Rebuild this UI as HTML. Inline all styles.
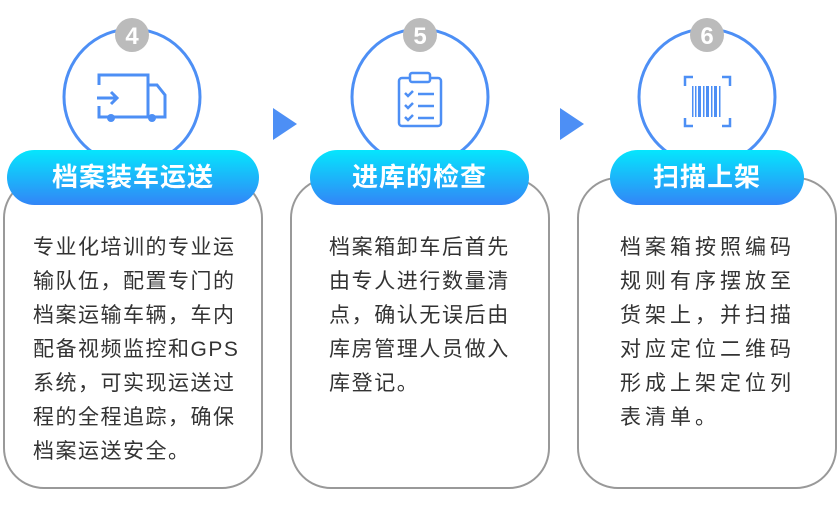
<!DOCTYPE html>
<html><head><meta charset="utf-8"><style>
body{margin:0;width:837px;height:507px;background:#fff;overflow:hidden;position:relative;font-family:"Liberation Sans","Noto Sans CJK SC",sans-serif}
svg{position:absolute;left:0;top:0}
.t{position:absolute;font-size:21px;line-height:34px;color:#333;white-space:nowrap}
.p{position:absolute;color:#fff;font-weight:bold;font-size:26px;text-align:center;line-height:55px;top:150px;letter-spacing:1px}
</style></head><body>
<svg width="837" height="507">
<defs><linearGradient id="g" x1="0" y1="0" x2="0" y2="1"><stop offset="0" stop-color="#05e6fd"/><stop offset="1" stop-color="#3285f7"/></linearGradient></defs>
<g fill="#fff" stroke="#999" stroke-width="2">
<rect x="4" y="178" width="258" height="310" rx="40"/>
<rect x="291" y="178" width="258" height="310" rx="40"/>
<rect x="578" y="178" width="258" height="310" rx="40"/>
</g>
<g fill="#fff" stroke="#4d8ff5" stroke-width="3">
<circle cx="132" cy="97" r="68"/><circle cx="420" cy="97" r="68"/><circle cx="707" cy="97" r="68"/>
</g>
<rect x="7" y="150" width="252" height="55" rx="27.5" fill="url(#g)"/>
<rect x="310" y="150" width="219" height="55" rx="27.5" fill="url(#g)"/>
<rect x="610" y="150" width="194" height="55" rx="27.5" fill="url(#g)"/>
<g fill="#bbb"><circle cx="132" cy="35" r="17"/><circle cx="420" cy="35" r="17"/><circle cx="707" cy="35" r="17"/></g>
<g fill="#fff" font-size="24" font-weight="bold" text-anchor="middle" font-family="Liberation Sans,sans-serif"><text x="132" y="44">4</text><text x="420" y="44">5</text><text x="707" y="44">6</text></g>
<g fill="#4d8ff5"><polygon points="273,108 297,124 273,140"/><polygon points="560,108 584,124 560,140"/></g>
<g fill="none" stroke="#4d8ff5" stroke-width="3">
<path d="M99 85 V75 H148 V117 H99 V106"/><path d="M148 85 H157 L165 95 V117 H148"/>
<path d="M97 98 H117 M111 92 L117 98 L111 104"/>
</g>
<g fill="#4d8ff5"><circle cx="111" cy="118" r="4"/><circle cx="152" cy="118" r="4"/></g>
<g fill="none" stroke="#4d8ff5" stroke-width="2.5">
<rect x="399" y="78" width="42" height="48" rx="3"/><rect x="410" y="73" width="20" height="9" rx="2" fill="#fff"/>
<path d="M405 93 l3 3 l5 -5 M405 105 l3 3 l5 -5 M405 117 l3 3 l5 -5 M418 94 H434 M418 106 H434 M418 118 H434"/>
</g>
<g fill="none" stroke="#4d8ff5" stroke-width="2.5">
<path d="M685 86 V77 H693 M722 77 H730 V86 M685 118 V126 H693 M722 126 H730 V118"/>
</g>
<g fill="#4d8ff5"><rect x="692" y="86" width="1.5" height="31"/><rect x="695" y="86" width="1.5" height="31"/><rect x="698" y="86" width="3" height="31"/><rect x="703" y="86" width="1.5" height="31"/><rect x="706" y="86" width="3" height="31"/><rect x="711" y="86" width="1.5" height="31"/><rect x="714" y="86" width="3" height="31"/><rect x="719" y="86" width="1.5" height="31"/></g>
</svg>
<div class="p" style="left:7px;width:252px">档案装车运送</div>
<div class="p" style="left:310px;width:219px">进库的检查</div>
<div class="p" style="left:610px;width:194px">扫描上架</div>
<div class="t" style="left:33px;top:231px;letter-spacing:1.5px">专业化培训的专业运<br>输队伍，配置专门的<br>档案运输车辆，车内<br>配备视频监控和GPS<br>系统，可实现运送过<br>程的全程追踪，确保<br>档案运送安全。</div>
<div class="t" style="left:329px;top:231px;letter-spacing:1.6px">档案箱卸车后首先<br>由专人进行数量清<br>点，确认无误后由<br>库房管理人员做入<br>库登记。</div>
<div class="t" style="left:620px;top:231px;letter-spacing:4px">档案箱按照编码<br>规则有序摆放至<br>货架上，并扫描<br>对应定位二维码<br>形成上架定位列<br>表清单。</div>
</body></html>
